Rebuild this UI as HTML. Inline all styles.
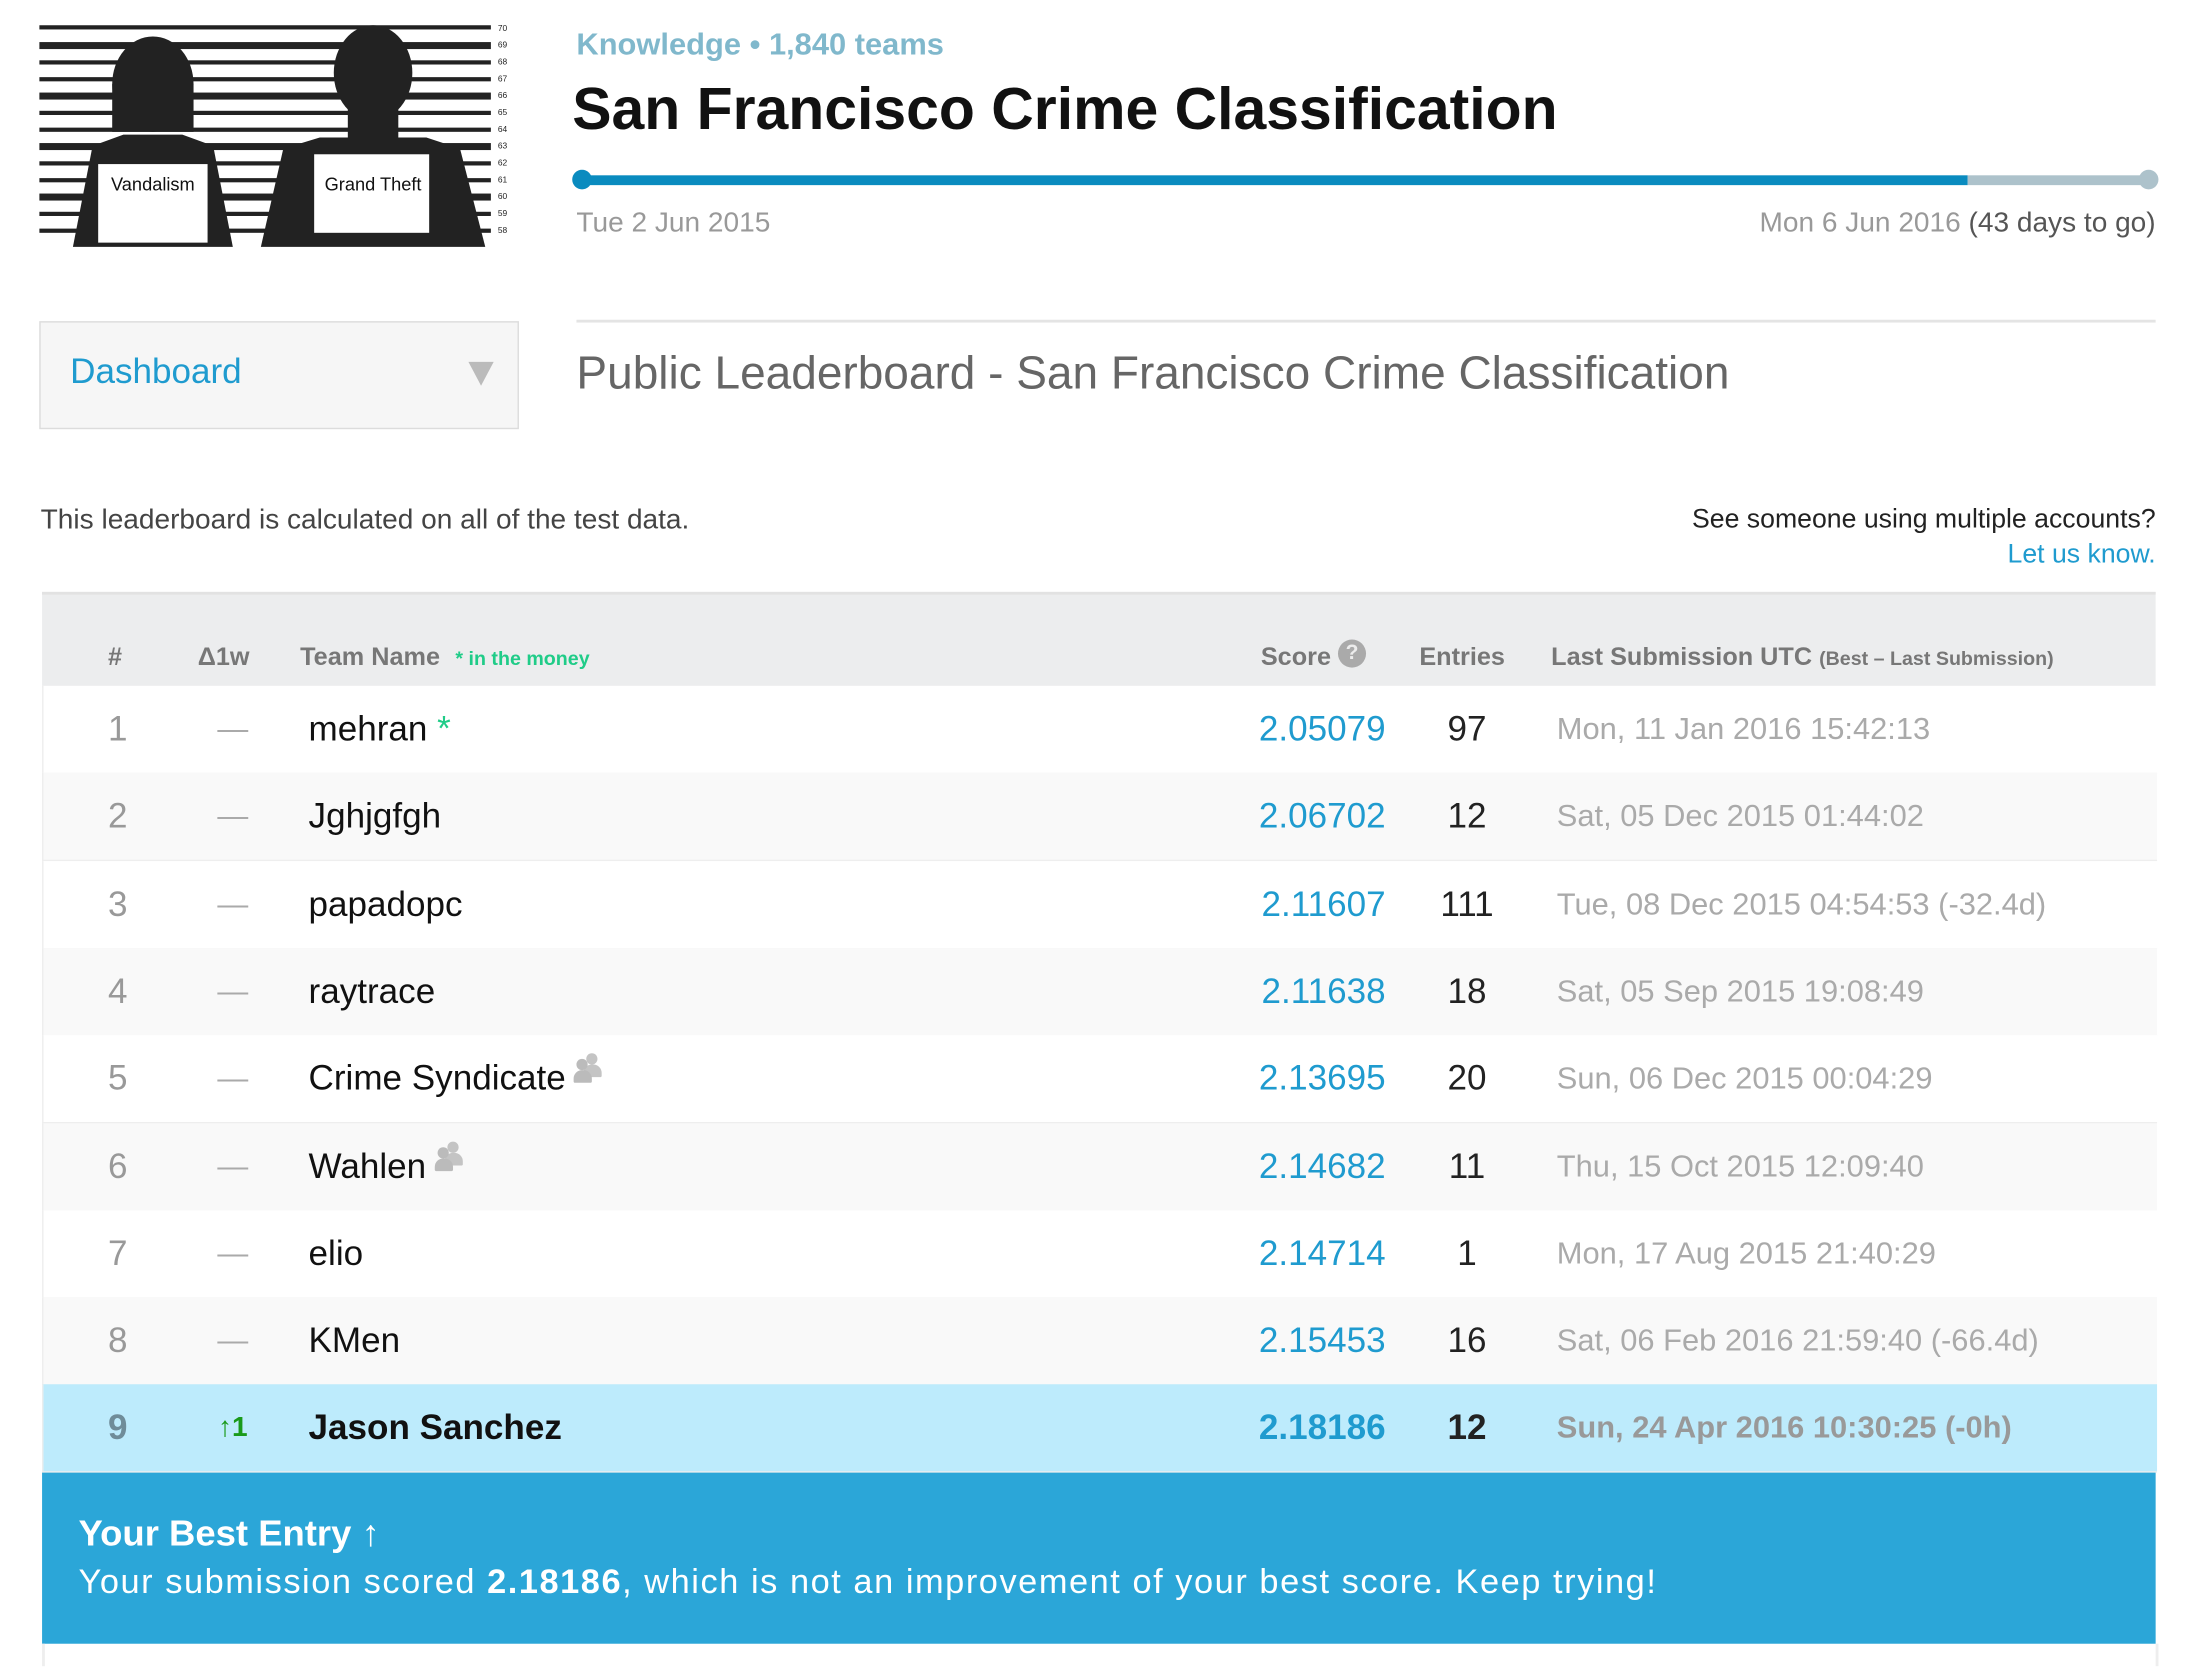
<!DOCTYPE html>
<html><head><meta charset="utf-8">
<style>
html,body{margin:0;padding:0;background:#fff;}
body{width:2198px;height:1666px;overflow:hidden;position:relative;}
#wrap{position:absolute;left:0;top:0;width:1564px;height:1190px;transform:scale(1.4025);transform-origin:0 0;font-family:"Liberation Sans",sans-serif;}
.a{position:absolute;white-space:nowrap;}
.row{position:absolute;left:30px;width:1507px;height:62px;border-bottom:1px solid #eeeeee;}
.c{position:absolute;top:0;height:62px;line-height:62px;font-size:25px;}
.hd{position:absolute;top:0;height:67px;line-height:88px;font-size:18px;font-weight:bold;color:#777;}
</style></head><body>
<div id="wrap">
 <svg class="a" style="left:28px;top:16px" width="340" height="162">
  <g fill="#222">
   <rect x="0" y="2" width="322" height="3"/><rect x="0" y="14" width="322" height="5"/><rect x="0" y="27" width="322" height="3"/><rect x="0" y="39" width="322" height="3"/><rect x="0" y="50" width="322" height="5"/><rect x="0" y="63" width="322" height="3"/><rect x="0" y="75" width="322" height="3"/><rect x="0" y="86" width="322" height="5"/><rect x="0" y="99" width="322" height="3"/><rect x="0" y="111" width="322" height="3"/><rect x="0" y="122" width="322" height="5"/><rect x="0" y="135" width="322" height="3"/><rect x="0" y="147" width="322" height="3"/>
   <ellipse cx="81" cy="44" rx="29" ry="34"/><rect x="52" y="44" width="58" height="34"/>
   <path d="M24 160 L38 88 L60 80 L102 80 L124 88 L138 160 Z"/>
   <ellipse cx="238" cy="36" rx="28" ry="34"/><rect x="220" y="55" width="36" height="30"/>
   <path d="M158 160 L174 90 L200 82 L276 82 L300 90 L318 160 Z"/>
  </g>
  <rect x="42" y="101" width="78" height="56" fill="#fff"/>
  <rect x="196" y="94" width="82" height="56" fill="#fff"/>
  <text x="81" y="120" font-size="13" text-anchor="middle" font-family="Liberation Sans,sans-serif" fill="#111">Vandalism</text>
  <text x="238" y="120" font-size="13" text-anchor="middle" font-family="Liberation Sans,sans-serif" fill="#111">Grand Theft</text>
  <g font-size="6" font-family="Liberation Sans,sans-serif" fill="#222">
   <text x="327" y="6">70</text><text x="327" y="18">69</text><text x="327" y="30">68</text><text x="327" y="42">67</text><text x="327" y="54">66</text><text x="327" y="66">65</text><text x="327" y="78">64</text><text x="327" y="90">63</text><text x="327" y="102">62</text><text x="327" y="114">61</text><text x="327" y="126">60</text><text x="327" y="138">59</text><text x="327" y="150">58</text>
  </g>
 </svg>

 <div class="a" style="left:411px;top:19px;font-size:22px;font-weight:bold;color:#80b8cc;">Knowledge • 1,840 teams</div>
 <div class="a" style="left:408px;top:54px;font-size:42px;font-weight:bold;color:#111;">San Francisco Crime Classification</div>

 <div class="a" style="left:415px;top:125px;width:988px;height:7px;background:#0a8bbf;"></div>
 <div class="a" style="left:1403px;top:125px;width:129px;height:7px;background:#adc2cb;"></div>
 <div class="a" style="left:408px;top:121px;width:14px;height:14px;border-radius:7px;background:#0a8bbf;"></div>
 <div class="a" style="left:1525px;top:121px;width:14px;height:14px;border-radius:7px;background:#adc2cb;"></div>
 <div class="a" style="left:411px;top:148px;font-size:20px;color:#999;">Tue 2 Jun 2015</div>
 <div class="a" style="right:27px;top:148px;font-size:20px;color:#999;">Mon 6 Jun 2016 <span style="color:#555">(43 days to go)</span></div>

 <div class="a" style="left:411px;top:228px;width:1126px;height:2px;background:#e4e4e4;"></div>
 <div class="a" style="left:28px;top:229px;width:340px;height:75px;border:1px solid #dcdcdc;background:#f6f6f6;">
  <div class="a" style="left:21px;top:21px;font-size:25px;color:#1f9bcf;">Dashboard</div>
  <div class="a" style="left:305px;top:28px;width:0;height:0;border-left:9px solid transparent;border-right:9px solid transparent;border-top:17px solid #bbb;"></div>
 </div>
 <div class="a" style="left:411px;top:247px;font-size:32.8px;color:#666;">Public Leaderboard - San Francisco Crime Classification</div>

 <div class="a" style="left:29px;top:360px;font-size:20px;color:#444;">This leaderboard is calculated on all of the test data.</div>
 <div class="a" style="right:27px;top:360px;font-size:19px;color:#222;">See someone using multiple accounts?</div>
 <div class="a" style="right:27px;top:385px;font-size:19px;color:#1f9bcf;">Let us know.</div>

 <div class="a" style="left:30px;top:422px;width:1507px;height:67px;background:#ecedee;border-top:2px solid #e2e2e2;">
  <div class="hd" style="left:47px;">#</div>
  <div class="hd" style="left:111px;">Δ1w</div>
  <div class="hd" style="left:184px;">Team Name <span style="color:#20cc88;font-size:14px;margin-left:6px;">* in the money</span></div>
  <div class="hd" style="left:869px;">Score <span style="display:inline-block;width:20px;height:20px;border-radius:10px;background:#aaa;color:#ececec;font-size:15px;line-height:20px;text-align:center;vertical-align:4px;">?</span></div>
  <div class="hd" style="left:982px;">Entries</div>
  <div class="hd" style="left:1076px;">Last Submission UTC <span style="font-size:14px;">(Best – Last Submission)</span></div>
 </div>

 <div id="rows"></div>

 <div class="a" style="left:30px;top:1050px;width:1507px;height:122px;background:#2ba6d8;color:#fff;">
  <div class="a" style="left:26px;top:28px;font-size:26px;font-weight:bold;">Your Best Entry ↑</div>
  <div class="a" style="left:26px;top:65px;font-size:24.5px;letter-spacing:1.1px;">Your submission scored <b>2.18186</b>, which is not an improvement of your best score. Keep trying!</div>
 </div>
 <div class="a" style="left:30px;top:1172px;width:1505px;height:16px;border-left:2px solid #eee;border-right:2px solid #eee;"></div>
</div>
<script>
const ranks=[1,2,3,4,5,6,7,8,9];
const deltas=["—","—","—","—","—","—","—","—","↑1"];
const teams=["mehran","Jghjgfgh","papadopc","raytrace","Crime Syndicate","Wahlen","elio","KMen","Jason Sanchez"];
const scores=["2.05079","2.06702","2.11607","2.11638","2.13695","2.14682","2.14714","2.15453","2.18186"];
const entries=[97,12,111,18,20,11,1,16,12];
const lastSub=["Mon, 11 Jan 2016 15:42:13","Sat, 05 Dec 2015 01:44:02","Tue, 08 Dec 2015 04:54:53 (-32.4d)","Sat, 05 Sep 2015 19:08:49","Sun, 06 Dec 2015 00:04:29","Thu, 15 Oct 2015 12:09:40","Mon, 17 Aug 2015 21:40:29","Sat, 06 Feb 2016 21:59:40 (-66.4d)","Sun, 24 Apr 2016 10:30:25 (-0h)"];
const badges=["money","","","","team","team","","",""];
const host=document.getElementById('rows');
for(let i=0;i<teams.length;i++){
  const me=i===teams.length-1;
  const r=document.createElement('div');
  r.className='row';
  
  
  r.style.top=(489+i*62.3)+'px';
  r.style.background=me?'#bdebfc':(i%2?'#f9f9f9':'#fff');
  r.style.borderLeft='1px solid #eee';
  const fw=me?'bold':'normal';
  let badge='';
  if(badges[i]==='money') badge=' <span style="color:#20cc88">*</span>';
  if(badges[i]==='team') badge=' <span style="display:inline-block;width:20px;height:20px;vertical-align:6px;position:relative"><span style="position:absolute;left:8px;top:0;width:8px;height:8px;border-radius:4px;background:#c4c4c4"></span><span style="position:absolute;left:6px;top:8px;width:13px;height:9px;border-radius:6px 6px 1px 1px;background:#c4c4c4"></span><span style="position:absolute;left:1px;top:4px;width:8px;height:8px;border-radius:4px;background:#bbb"></span><span style="position:absolute;left:-1px;top:12px;width:13px;height:9px;border-radius:6px 6px 1px 1px;background:#bbb"></span></span>';
  r.innerHTML=
   '<div class="c" style="left:38px;width:30px;text-align:center;color:'+(me?'#6f8c99':'#999')+';font-weight:'+fw+'">'+ranks[i]+'</div>'+
   '<div class="c" style="left:110px;width:50px;text-align:center;color:'+(me?'#1a9a1a':'#aaa')+';font-size:'+(me?'20px':'22px')+';font-weight:'+fw+'">'+deltas[i]+'</div>'+
   '<div class="c" style="left:189px;color:#111;font-weight:'+fw+'">'+teams[i]+badge+'</div>'+
   '<div class="c" style="left:820px;width:137px;text-align:right;color:#1f9bcf;font-weight:'+fw+'">'+scores[i]+'</div>'+
   '<div class="c" style="left:985px;width:60px;text-align:center;color:#222;font-weight:'+fw+'">'+entries[i]+'</div>'+
   '<div class="c" style="left:1079px;color:'+(me?'#999':'#aaa')+';font-size:22px;font-weight:'+fw+'">'+lastSub[i]+'</div>';
  host.appendChild(r);
}
</script>
</body></html>
